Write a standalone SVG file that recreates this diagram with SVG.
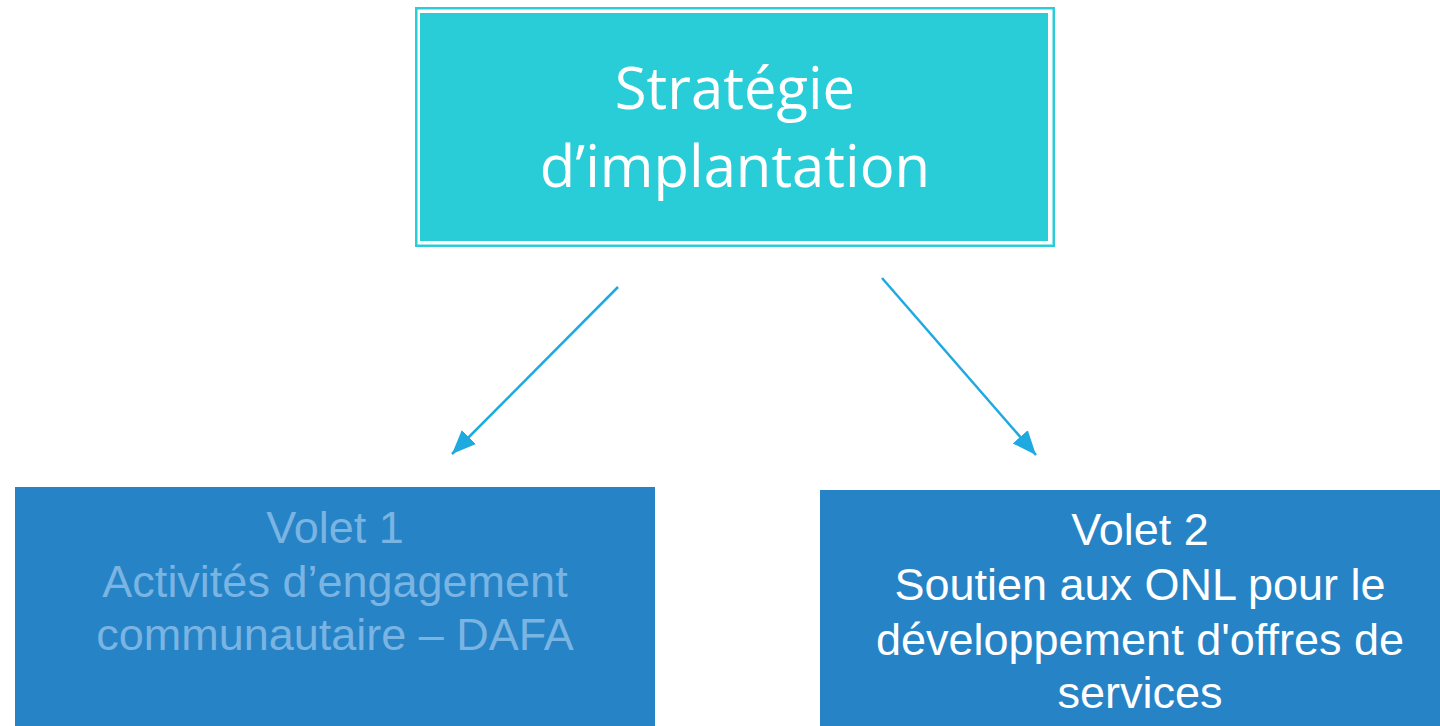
<svg xmlns="http://www.w3.org/2000/svg" width="1440" height="726" viewBox="0 0 1440 726">
<defs>
<style>
.top{font-family:"Open Sans","Noto Sans",sans-serif;font-size:58px;fill:#ffffff;text-anchor:middle}
.vol{font-family:"Liberation Sans",Arial,sans-serif;font-size:45px;text-anchor:middle}
.conn{stroke:#1FA9E1;stroke-width:2.5;fill:none}
</style>
<marker id="ah" markerUnits="userSpaceOnUse" markerWidth="26" markerHeight="26" viewBox="0 0 26 26" refX="24" refY="13" orient="auto">
<path d="M0,3 L24,13 L0,23 Z" fill="#1FA9E1"/>
</marker>
</defs>
<rect width="1440" height="726" fill="#ffffff"/>
<g id="connectors">
<line class="conn" x1="618" y1="287" x2="452" y2="454" marker-end="url(#ah)"/>
<line class="conn" x1="882" y1="278" x2="1036" y2="455" marker-end="url(#ah)"/>
</g>
<g id="strategie">
<rect x="416.25" y="8.25" width="637.5" height="237.5" fill="none" stroke="#29CDD8" stroke-width="2.5"/>
<rect x="420" y="13" width="628" height="228" fill="#29CDD8"/>
<text class="top" x="735" y="109">Stratégie</text>
<text class="top" x="735" y="187">d’implantation</text>
</g>
<g id="volet1">
<rect x="15" y="487" width="640" height="239" fill="#2683C6"/>
<text class="vol" x="335" y="543" fill="#7AB4E2">Volet 1</text>
<text class="vol" x="335" y="597" fill="#7AB4E2">Activités d’engagement</text>
<text class="vol" x="335" y="650" fill="#7AB4E2">communautaire – DAFA</text>
</g>
<g id="volet2">
<rect x="820" y="490" width="620" height="236" fill="#2683C6"/>
<text class="vol" x="1140" y="545" fill="#ffffff">Volet 2</text>
<text class="vol" x="1140" y="600" fill="#ffffff">Soutien aux ONL pour le</text>
<text class="vol" x="1140" y="655" fill="#ffffff">développement d'offres de</text>
<text class="vol" x="1140" y="708" fill="#ffffff">services</text>
</g>
</svg>
